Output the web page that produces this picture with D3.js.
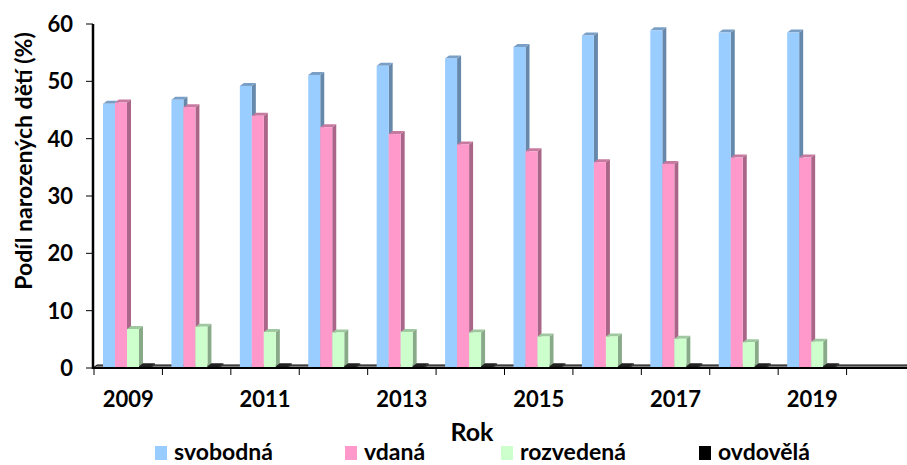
<!DOCTYPE html>
<html>
<head>
<meta charset="utf-8">
<script src="https://cdn.jsdelivr.net/npm/d3@7"></script>
<style>
    body { margin: 0; background: #fff; }
    svg { display: block; font-family: Lato, "Open Sans", sans-serif; font-weight: bold; }
</style>
</head>
<body>
<svg id="chart" width="907" height="465"></svg>
<script>
// Years on the axis (2020 slot stays empty, like in the original)
const years = ['2009', '2010', '2011', '2012', '2013', '2014', '2015', '2016', '2017', '2018', '2019', '2020'];
const tickYears = ['2009', '2011', '2013', '2015', '2017', '2019'];
const seriesNames = ['svobodná', 'vdaná', 'rozvedená', 'ovdovělá'];

const svobodna = [46.1, 46.8, 49.2, 51.1, 52.7, 54.0, 56.0, 58.0, 58.9, 58.5, 58.5];
const vdana = [46.3, 45.5, 44.0, 42.0, 40.8, 39.0, 37.8, 35.9, 35.6, 36.7, 36.7];
const rozvedena = [6.8, 7.2, 6.3, 6.2, 6.3, 6.2, 5.5, 5.5, 5.1, 4.5, 4.6];
const ovdovela = [0.3, 0.3, 0.3, 0.3, 0.3, 0.3, 0.3, 0.3, 0.3, 0.3, 0.3];

const yTicks = [0, 10, 20, 30, 40, 50, 60];

const front = ['#99ccff', '#ff99cc', '#ccffcc', '#000000'];
const side = ['#6688aa', '#aa6688', '#88aa88', '#333333'];
const topc = ['#7a9fc6', '#c77aa0', '#a0c8a0', '#222222'];

const svg = d3.select('#chart');
const plotL = 93, plotR = 915, plotT = 24, plotB = 368;
const dx = 4, dy = 3; // fake 3D depth

const x = d3.scaleBand().domain(years).range([plotL + 1, plotR]);
const xs = d3.scaleBand().domain(seriesNames).range([9, 57]);
const y = d3.scaleLinear().domain([0, 60]).range([plotB, plotT]);

// floor
svg.append('path')
    .attr('d', `M${plotL},${plotB}L${plotL + dx},${plotB - dy}L${plotR + dx},${plotB - dy}L${plotR},${plotB}Z`)
    .attr('fill', '#7f7f7f')
    .attr('stroke', '#000')
    .attr('stroke-width', 1);

// bars
const allSeries = [svobodna, vdana, rozvedena, ovdovela];
years.slice(0, 11).forEach((yr, i) => {
    allSeries.forEach((vals, s) => {
        const x0 = x(yr) + xs(seriesNames[s]);
        const w = xs.bandwidth();
        const y1 = y(vals[i]);
        const g = svg.append('g');
        g.append('path')
            .attr('d', `M${x0 + w},${y1}L${x0 + w + dx},${y1 - dy}L${x0 + w + dx},${plotB - dy}L${x0 + w},${plotB}Z`)
            .attr('fill', side[s]);
        g.append('path')
            .attr('d', `M${x0},${y1}L${x0 + dx},${y1 - dy}L${x0 + w + dx},${y1 - dy}L${x0 + w},${y1}Z`)
            .attr('fill', topc[s]);
        g.append('rect')
            .attr('x', x0)
            .attr('y', y1)
            .attr('width', w)
            .attr('height', plotB - y1)
            .attr('fill', front[s]);
    });
});

// x axis
const xAxis = svg.append('g');
xAxis.append('line')
    .attr('x1', plotL).attr('x2', plotR).attr('y1', plotB).attr('y2', plotB)
    .attr('stroke', '#000').attr('stroke-width', 2);
years.forEach(yr => {
    xAxis.append('line')
        .attr('x1', x(yr)).attr('x2', x(yr)).attr('y1', plotB).attr('y2', plotB + 7)
        .attr('stroke', '#000').attr('stroke-width', 1);
});
tickYears.forEach(yr => {
    xAxis.append('text')
        .attr('x', x(yr) + x.bandwidth() / 2)
        .attr('y', 407)
        .attr('text-anchor', 'middle')
        .attr('font-size', 22)
        .text(yr);
});

// y axis
const yAxis = svg.append('g');
yAxis.append('line')
    .attr('x1', plotL).attr('x2', plotL).attr('y1', plotT).attr('y2', plotB + 1)
    .attr('stroke', '#000').attr('stroke-width', 2.5);
yTicks.forEach(t => {
    yAxis.append('line')
        .attr('x1', plotL - 7).attr('x2', plotL).attr('y1', y(t)).attr('y2', y(t))
        .attr('stroke', '#000').attr('stroke-width', 1);
    yAxis.append('text')
        .attr('x', 73)
        .attr('y', y(t))
        .attr('dy', '0.36em')
        .attr('text-anchor', 'end')
        .attr('font-size', 22)
        .text(t);
});

// axis titles
svg.append('text')
    .attr('transform', 'translate(32,161) rotate(-90)')
    .attr('text-anchor', 'middle')
    .attr('font-size', 23)
    .text('Podíl narozených dětí (%)');
svg.append('text')
    .attr('x', 472)
    .attr('y', 441)
    .attr('text-anchor', 'middle')
    .attr('font-size', 25)
    .text('Rok');

// legend
const legendX = [155, 345, 501, 699];
seriesNames.forEach((name, s) => {
    svg.append('rect')
        .attr('x', legendX[s]).attr('y', 446)
        .attr('width', 12).attr('height', 14)
        .attr('fill', front[s]);
    svg.append('text')
        .attr('x', legendX[s] + 19)
        .attr('y', 460)
        .attr('font-size', 23)
        .text(name);
});
</script>
</body>
</html>
